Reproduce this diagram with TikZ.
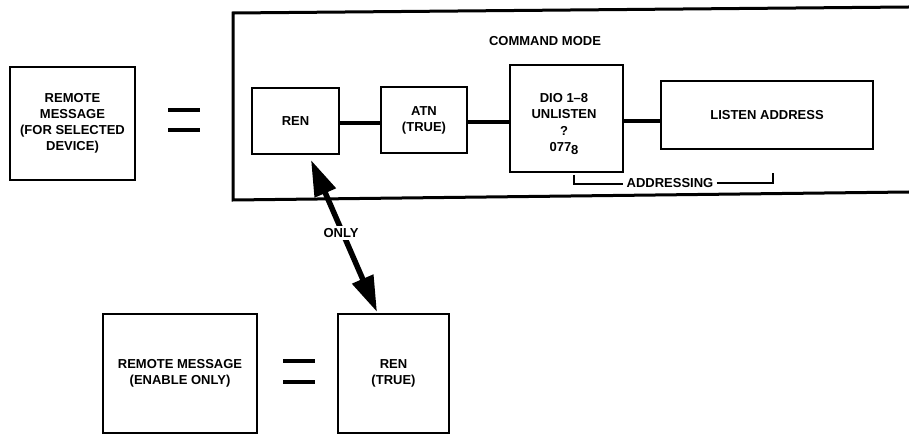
\documentclass[tikz,border=0pt]{standalone}
\usepackage{fontspec}
\setmainfont{Liberation Sans}
\usetikzlibrary{arrows.meta,calc}
\begin{document}
\begin{tikzpicture}[x=1pt,y=-1pt,
  lbl/.style={font=\fontsize{13}{16}\selectfont\bfseries, align=center, inner sep=0pt},
  box/.style={draw, line width=2pt, lbl},
  conn/.style={line width=4pt},
  eqbar/.style={line width=3.5pt},
  big/.style={line width=3pt}]
\fill[white] (0,0) rectangle (909,435);
\useasboundingbox (0,0) rectangle (909,435);

% outer command-mode frame (open at right)
\draw[big] (909,7) -- (233,13) -- (233,200) -- (909,192);
\node[lbl] (cmd) at (545,41) {COMMAND MODE};

% left remote message box and equals sign
\node[box, minimum width=125pt, minimum height=113pt] (rm) at (72.5,123.5)
  {\fontsize{13}{15.3}\selectfont REMOTE\\MESSAGE\\(FOR SELECTED\\DEVICE)};
\draw[eqbar] (168,110) -- (200,110);
\draw[eqbar] (168,130) -- (200,130);

% command mode chain
\node[box, minimum width=87pt, minimum height=66pt] (ren) at (295.5,121) {REN};
\node[box, minimum width=86pt, minimum height=66pt] (atn) at (424,120) {ATN\\(TRUE)};
\node[box, minimum width=113pt, minimum height=107pt] (dio) at (566.5,118.5) {};
\node[lbl, font=\fontsize{13}{16.6}\selectfont\bfseries] (diot) at (564,124)
  {DIO 1--8\\UNLISTEN\\?\\077\raisebox{-0.45ex}{8}};
\node[box, minimum width=212pt, minimum height=68pt] (lst) at (767,115) {LISTEN ADDRESS};

\draw[conn] (ren.east |- 0,123) -- (atn.west |- 0,123);
\draw[conn] (atn.east |- 0,122) -- (dio.west |- 0,122);
\draw[conn] (dio.east |- 0,121) -- (lst.west |- 0,121);

% addressing bracket
\node[lbl, inner xsep=3pt] (addr) at (670,183) {ADDRESSING};
\draw[line width=1.6pt] (574,175) -- (574,184) -- (addr.west |- 0,184);
\draw[line width=1.6pt] (addr.east |- 0,183) -- (773,183) -- (773,173);

% bottom row
\node[box, minimum width=154pt, minimum height=119pt] (en) at (180,373.5)
  {REMOTE MESSAGE\\(ENABLE ONLY)};
\draw[eqbar] (283,361) -- (315,361);
\draw[eqbar] (283,382) -- (315,382);
\node[box, minimum width=111pt, minimum height=119pt] (rt) at (393.5,373.5) {REN\\(TRUE)};

% double arrow
\coordinate (a1) at ($(ren.south)+(15.5,5)$);
\coordinate (a2) at ($(rt.north)+(-16.5,-1)$);
\draw[line width=5.5pt, {Triangle[length=36pt,width=22pt]}-{Triangle[length=36pt,width=22pt]}] (a1) -- (a2);
\node[lbl, fill=white, inner sep=2pt] (only) at (341,233) {ONLY};
\end{tikzpicture}
\end{document}
